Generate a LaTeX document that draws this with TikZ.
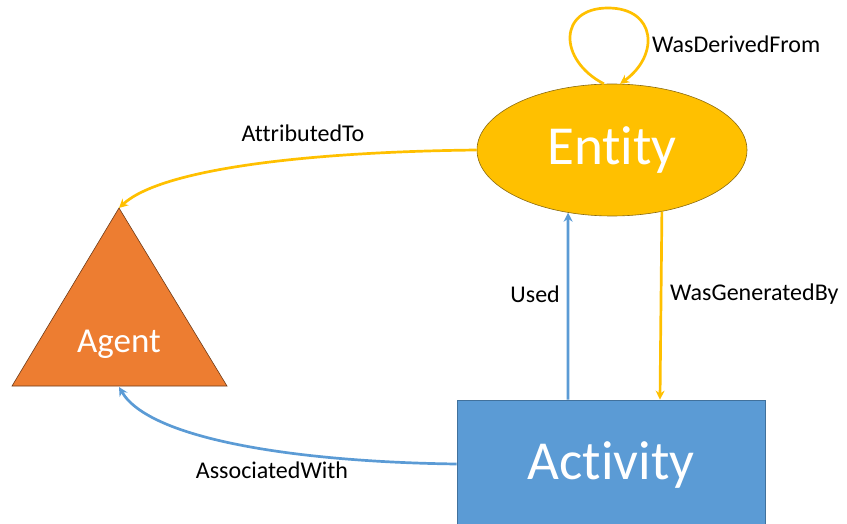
\documentclass[tikz,border=0pt]{standalone}
\usepackage{fontspec}
\setmainfont{Carlito}[Ligatures={NoCommon,NoContextual}]
\usetikzlibrary{shapes.geometric,arrows.meta,calc}
\definecolor{gold}{HTML}{FFC000}
\definecolor{goldline}{HTML}{8A6A10}
\definecolor{orangefill}{HTML}{ED7D31}
\definecolor{orangeline}{HTML}{6E3A17}
\definecolor{bluefill}{HTML}{5B9BD5}
\definecolor{blueline}{HTML}{41719C}
\tikzset{
  bigtext/.style={text=white,font=\fontsize{55}{60}\selectfont},
  edgelabel/.style={text=black,font=\fontsize{24}{28}\selectfont,inner sep=0pt},
  goldarrow/.style={draw=gold,line width=2.7pt,-{Stealth[length=9pt,width=9pt]}},
  bluearrow/.style={draw=bluefill,line width=2.7pt,-{Stealth[length=9pt,width=9pt]}},
}
\begin{document}
\begin{tikzpicture}[x=1pt,y=-1pt]
\useasboundingbox (0,0) rectangle (847,524);

% Entity
\node[ellipse,fill=gold,draw=goldline,line width=0.6pt,minimum width=270pt,minimum height=132pt,inner sep=0pt,bigtext] (entity) at (612,150) {Entity};

% Activity
\node[rectangle,fill=bluefill,draw=blueline,line width=0.8pt,minimum width=308pt,minimum height=124pt,inner sep=0pt] (activity) at (611,462) {};
\node[bigtext] (activitytext) at (611,465) {Activity};

% Agent triangle
\coordinate (apex) at (119,208);
\coordinate (bl) at (12,386);
\coordinate (br) at (227,386);
\coordinate (agentbase) at (119,387);
\fill[orangefill,draw=orangeline,line width=0.6pt] (apex) -- (br) -- (bl) -- cycle;
\node[text=white,font=\fontsize{35}{40}\selectfont] (agent) at (119,344) {Agent};

% Connectors
\draw[goldarrow] (entity.97.5) .. controls (558,60) and (558,8) .. (608,8)
  .. controls (656,8) and (660,55) .. (entity.83);
\draw[goldarrow] (entity.west) .. controls (300,152) and (160,170) .. (apex);
\draw[bluearrow] ($(activity.north)+(-43,0)$) -- (entity.-125.4);
\draw[goldarrow] (entity.-51) -- ($(activity.north)+(49,0)$);
\draw[bluearrow] (activity.west |- 0,464) .. controls (300,462) and (150,440) .. (agentbase);

% Labels
\node[edgelabel,anchor=west] (lderived) at (652,44) {WasDerivedFrom};
\node[edgelabel] (lattributed) at (303,133) {AttributedTo};
\node[edgelabel,anchor=east] (lused) at (560,294) {Used};
\node[edgelabel,anchor=west] (lgenerated) at (670,294) {WasGeneratedBy};
\node[edgelabel] (lassociated) at (272,470) {AssociatedWith};
\end{tikzpicture}
\end{document}
